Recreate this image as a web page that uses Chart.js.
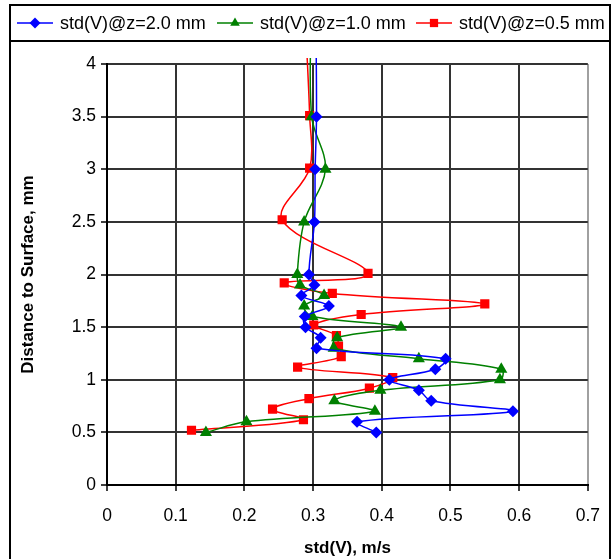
<!DOCTYPE html>
<html>
<head>
<meta charset="utf-8">
<script src="https://cdn.jsdelivr.net/npm/chart.js@4/dist/chart.umd.min.js"></script>
<style>
  html, body { margin: 0; padding: 0; background: #fff; }
  #wrap { width: 615px; height: 559px; }
</style>
</head>
<body>
<div id="wrap"><canvas id="chartStd" width="615" height="559"></canvas></div>
<script>
const seriesNames = ['std(V)@z=2.0 mm', 'std(V)@z=1.0 mm', 'std(V)@z=0.5 mm'];
const seriesColors = ['#0000ff', '#008000', '#ff0000'];
const seriesMarkers = ['rectRot', 'triangle', 'rect'];

// distance to surface (mm) and std(V) (m/s), first point sits above the plot top
const distZ20 = [4.5, 3.5, 3.0, 2.5, 2.0, 1.9, 1.8, 1.7, 1.6, 1.5, 1.4, 1.3, 1.2, 1.1, 1.0, 0.9, 0.8, 0.7, 0.6, 0.5];
const stdZ20  = [0.304, 0.305, 0.303, 0.302, 0.294, 0.302, 0.283, 0.323, 0.288, 0.289, 0.311, 0.305, 0.493, 0.478, 0.411, 0.454, 0.472, 0.591, 0.364, 0.392];

const distZ10 = [4.5, 3.5, 3.0, 2.5, 2.0, 1.9, 1.8, 1.7, 1.6, 1.5, 1.4, 1.3, 1.2, 1.1, 1.0, 0.9, 0.8, 0.7, 0.6, 0.5];
const stdZ10  = [0.297, 0.298, 0.318, 0.287, 0.277, 0.281, 0.316, 0.287, 0.299, 0.428, 0.335, 0.330, 0.454, 0.574, 0.572, 0.398, 0.331, 0.390, 0.203, 0.144];

const distZ05 = [4.5, 3.51, 3.01, 2.52, 2.01, 1.92, 1.82, 1.72, 1.62, 1.52, 1.42, 1.32, 1.22, 1.12, 1.02, 0.92, 0.82, 0.72, 0.62, 0.52];
const stdZ05  = [0.288, 0.295, 0.295, 0.255, 0.380, 0.258, 0.328, 0.550, 0.370, 0.301, 0.334, 0.337, 0.341, 0.2775, 0.416, 0.382, 0.294, 0.241, 0.286, 0.123];

const xTicks = [0, 0.1, 0.2, 0.3, 0.4, 0.5, 0.6, 0.7];
const yTicks = [0, 0.5, 1, 1.5, 2, 2.5, 3, 3.5, 4];

const FONT = "'Liberation Sans', Arial, sans-serif";
Chart.defaults.font.family = FONT;
Chart.defaults.color = '#000';

function toPoints(xs, ys) {
  return xs.map((x, i) => ({ x: x, y: ys[i] }));
}

function markerPath(ctx, style, x, y, r) {
  ctx.beginPath();
  if (style === 'rectRot') {
    ctx.moveTo(x, y - r); ctx.lineTo(x + r, y); ctx.lineTo(x, y + r); ctx.lineTo(x - r, y);
  } else if (style === 'triangle') {
    ctx.moveTo(x, y - r); ctx.lineTo(x + r * 0.87, y + r * 0.5); ctx.lineTo(x - r * 0.87, y + r * 0.5);
  } else {
    const s = r * 0.75;
    ctx.rect(x - s, y - s, 2 * s, 2 * s);
  }
  ctx.closePath();
}

const frameAndLegend = {
  id: 'frameAndLegend',
  afterDraw(chart) {
    const ctx = chart.ctx;
    ctx.save();
    ctx.strokeStyle = '#000';
    ctx.lineWidth = 2;
    ctx.strokeRect(10, 5, 600, 600);
    ctx.beginPath();
    ctx.moveTo(10, 41);
    ctx.lineTo(610, 41);
    ctx.stroke();

    const itemX = [17, 217, 416];
    ctx.font = '18px ' + FONT;
    ctx.textBaseline = 'middle';
    seriesNames.forEach((name, i) => {
      const x = itemX[i];
      ctx.strokeStyle = seriesColors[i];
      ctx.lineWidth = 1.5;
      ctx.beginPath();
      ctx.moveTo(x, 23);
      ctx.lineTo(x + 36, 23);
      ctx.stroke();
      ctx.fillStyle = seriesColors[i];
      markerPath(ctx, seriesMarkers[i], x + 18, 23, 5.5);
      ctx.fill();
      ctx.fillStyle = '#000';
      ctx.fillText(name, x + 43, 24);
    });
    ctx.restore();
  }
};

const sets = [
  [stdZ20, distZ20, 6],
  [stdZ10, distZ10, 7],
  [stdZ05, distZ05, 6.5]
];

new Chart(document.getElementById('chartStd'), {
  type: 'scatter',
  data: {
    datasets: sets.map((s, i) => ({
      label: seriesNames[i],
      data: toPoints(s[0], s[1]),
      showLine: true,
      borderColor: seriesColors[i],
      backgroundColor: seriesColors[i],
      borderWidth: 1.5,
      pointStyle: seriesMarkers[i],
      pointRadius: s[2],
      pointBorderWidth: 0,
      tension: 0.35,
      clip: { left: 0, top: 6, right: 0, bottom: 0 }
    }))
  },
  options: {
    responsive: false,
    animation: false,
    layout: { padding: { left: 0, top: 64, right: 23, bottom: 0 }, autoPadding: false },
    plugins: { legend: { display: false }, tooltip: { enabled: false } },
    scales: {
      x: {
        type: 'linear',
        min: 0, max: 0.7,
        afterBuildTicks: (scale) => { scale.ticks = xTicks.map(v => ({ value: v })); },
        afterFit: (scale) => { scale.height = 74; },
        ticks: { padding: 15, font: { size: 17.5 }, callback: (v) => String(v) },
        grid: {
          color: (c) => (c.tick && c.tick.value === 0.7) ? '#a0a0a0' : '#333',
          lineWidth: 2,
          tickLength: 6,
          tickColor: '#000',
          tickWidth: 1.5
        },
        border: { color: '#000', width: 2 },
        title: { display: true, text: 'std(V), m/s', font: { size: 17, weight: 'bold', lineHeight: 1 }, padding: { top: 0, bottom: 2 } }
      },
      y: {
        type: 'linear',
        min: 0, max: 4,
        afterBuildTicks: (scale) => { scale.ticks = yTicks.map(v => ({ value: v })); },
        afterFit: (scale) => { scale.width = 107; },
        ticks: { padding: 5, font: { size: 17.5 }, callback: (v) => String(v) },
        grid: {
          color: '#333',
          lineWidth: 2,
          tickLength: 6,
          tickColor: '#000',
          tickWidth: 1.5
        },
        border: { color: '#000', width: 2 },
        title: { display: true, text: 'Distance to Surface, mm', font: { size: 17, weight: 'bold', lineHeight: 1 }, padding: { top: 19.5, bottom: 0 } }
      }
    }
  },
  plugins: [frameAndLegend]
});
</script>
</body>
</html>
